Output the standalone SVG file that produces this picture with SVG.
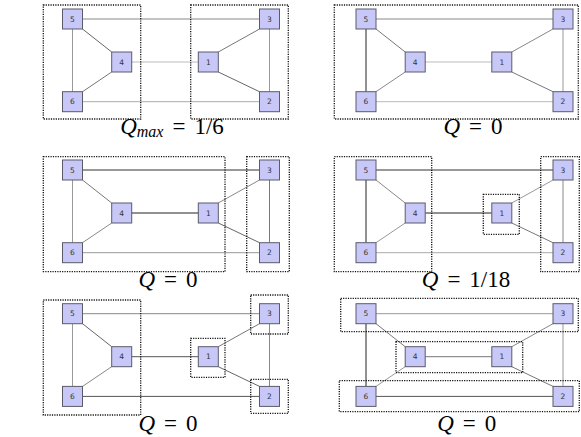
<svg xmlns="http://www.w3.org/2000/svg" width="581" height="437" viewBox="0 0 581 437">
<style>
.node rect{fill:#c8c8f8;stroke:#5a5a6a;stroke-width:1}
.node text{font-family:"DejaVu Sans",sans-serif;font-size:7.5px;fill:#333;text-anchor:middle}
.edges line{stroke-width:1;fill:none}
.box{fill:none;stroke:#111;stroke-width:1.3;stroke-dasharray:1.2 1.2}
.lbl{font-family:"Liberation Serif",serif;font-size:23px;fill:#000;text-anchor:middle}
.it{font-style:italic}
</style>
<rect width="581" height="437" fill="#fff"/>

<!-- Panel 1 -->
<g id="panel1">
<g class="edges" id="p1-edges">
<line x1="82.5" y1="19" x2="259.5" y2="19" stroke="#888"/>
<line x1="82.5" y1="29" x2="111.7" y2="52" stroke="#666"/>
<line x1="72.5" y1="29" x2="72.5" y2="91.7" stroke="#999"/>
<line x1="111.7" y1="72" x2="82.5" y2="91.7" stroke="#777"/>
<line x1="131.7" y1="62" x2="198.3" y2="62" stroke="#bbb"/>
<line x1="218.3" y1="52" x2="259.5" y2="29" stroke="#777"/>
<line x1="218.3" y1="72" x2="259.5" y2="91.7" stroke="#666"/>
<line x1="269.5" y1="29" x2="269.5" y2="91.7" stroke="#999"/>
<line x1="82.5" y1="101.7" x2="259.5" y2="101.7" stroke="#aaa"/>
</g>
<g id="p1-n5" class="node" transform="translate(72.5,19)"><rect x="-10" y="-10" width="20" height="20"/><text y="2.6">5</text></g>
<g id="p1-n3" class="node" transform="translate(269.5,19)"><rect x="-10" y="-10" width="20" height="20"/><text y="2.6">3</text></g>
<g id="p1-n4" class="node" transform="translate(121.7,62)"><rect x="-10" y="-10" width="20" height="20"/><text y="2.6">4</text></g>
<g id="p1-n1" class="node" transform="translate(208.3,62)"><rect x="-10" y="-10" width="20" height="20"/><text y="2.6">1</text></g>
<g id="p1-n6" class="node" transform="translate(72.5,101.7)"><rect x="-10" y="-10" width="20" height="20"/><text y="2.6">6</text></g>
<g id="p1-n2" class="node" transform="translate(269.5,101.7)"><rect x="-10" y="-10" width="20" height="20"/><text y="2.6">2</text></g>
<rect class="box" x="43.3" y="5" width="97.4" height="114"/>
<rect class="box" x="190.7" y="5" width="97.6" height="114"/>
<text class="lbl" x="172" y="134"><tspan class="it">Q</tspan><tspan class="it" font-size="16" dy="3">max</tspan><tspan dx="9" dy="-3">=</tspan><tspan dx="9">1/6</tspan></text>
</g>

<!-- Panel 2 -->
<g id="panel2" transform="translate(293.5,0)">
<g class="edges" id="p2-edges">
<line x1="82.5" y1="19" x2="259.5" y2="19" stroke="#888"/>
<line x1="82.5" y1="29" x2="111.7" y2="52" stroke="#777"/>
<line x1="72.5" y1="29" x2="72.5" y2="91.7" stroke="#222"/>
<line x1="111.7" y1="72" x2="82.5" y2="91.7" stroke="#888"/>
<line x1="131.7" y1="62" x2="198.3" y2="62" stroke="#bbb"/>
<line x1="218.3" y1="52" x2="259.5" y2="29" stroke="#888"/>
<line x1="218.3" y1="72" x2="259.5" y2="91.7" stroke="#777"/>
<line x1="269.5" y1="29" x2="269.5" y2="91.7" stroke="#999"/>
<line x1="82.5" y1="101.7" x2="259.5" y2="101.7" stroke="#bbb"/>
</g>
<g id="p2-n5" class="node" transform="translate(72.5,19)"><rect x="-10" y="-10" width="20" height="20"/><text y="2.6">5</text></g>
<g id="p2-n3" class="node" transform="translate(269.5,19)"><rect x="-10" y="-10" width="20" height="20"/><text y="2.6">3</text></g>
<g id="p2-n4" class="node" transform="translate(121.7,62)"><rect x="-10" y="-10" width="20" height="20"/><text y="2.6">4</text></g>
<g id="p2-n1" class="node" transform="translate(208.3,62)"><rect x="-10" y="-10" width="20" height="20"/><text y="2.6">1</text></g>
<g id="p2-n6" class="node" transform="translate(72.5,101.7)"><rect x="-10" y="-10" width="20" height="20"/><text y="2.6">6</text></g>
<g id="p2-n2" class="node" transform="translate(269.5,101.7)"><rect x="-10" y="-10" width="20" height="20"/><text y="2.6">2</text></g>
<rect class="box" x="40.8" y="5" width="244" height="114"/>
<text class="lbl" x="179.5" y="134"><tspan class="it">Q</tspan><tspan dx="9">=</tspan><tspan dx="9">0</tspan></text>
</g>

<!-- Panel 3 -->
<g id="panel3" transform="translate(0,151)">
<g class="edges" id="p3-edges">
<line x1="82.5" y1="19" x2="259.5" y2="19" stroke="#333"/>
<line x1="82.5" y1="29" x2="111.7" y2="52" stroke="#777"/>
<line x1="72.5" y1="29" x2="72.5" y2="91.7" stroke="#999"/>
<line x1="111.7" y1="72" x2="82.5" y2="91.7" stroke="#888"/>
<line x1="131.7" y1="62" x2="198.3" y2="62" stroke="#222"/>
<line x1="218.3" y1="52" x2="259.5" y2="29" stroke="#888"/>
<line x1="218.3" y1="72" x2="259.5" y2="91.7" stroke="#666"/>
<line x1="269.5" y1="29" x2="269.5" y2="91.7" stroke="#777"/>
<line x1="82.5" y1="101.7" x2="259.5" y2="101.7" stroke="#999"/>
</g>
<g id="p3-n5" class="node" transform="translate(72.5,19)"><rect x="-10" y="-10" width="20" height="20"/><text y="2.6">5</text></g>
<g id="p3-n3" class="node" transform="translate(269.5,19)"><rect x="-10" y="-10" width="20" height="20"/><text y="2.6">3</text></g>
<g id="p3-n4" class="node" transform="translate(121.7,62)"><rect x="-10" y="-10" width="20" height="20"/><text y="2.6">4</text></g>
<g id="p3-n1" class="node" transform="translate(208.3,62)"><rect x="-10" y="-10" width="20" height="20"/><text y="2.6">1</text></g>
<g id="p3-n6" class="node" transform="translate(72.5,101.7)"><rect x="-10" y="-10" width="20" height="20"/><text y="2.6">6</text></g>
<g id="p3-n2" class="node" transform="translate(269.5,101.7)"><rect x="-10" y="-10" width="20" height="20"/><text y="2.6">2</text></g>
<rect class="box" x="43.3" y="5.7" width="181.7" height="115"/>
<rect class="box" x="246.7" y="5.7" width="42.6" height="115"/>
<text class="lbl" x="168" y="136"><tspan class="it">Q</tspan><tspan dx="9">=</tspan><tspan dx="9">0</tspan></text>
</g>

<!-- Panel 4 -->
<g id="panel4" transform="translate(293.5,151)">
<g class="edges" id="p4-edges">
<line x1="82.5" y1="19" x2="259.5" y2="19" stroke="#333"/>
<line x1="82.5" y1="29" x2="111.7" y2="52" stroke="#888"/>
<line x1="72.5" y1="29" x2="72.5" y2="91.7" stroke="#222"/>
<line x1="111.7" y1="72" x2="82.5" y2="91.7" stroke="#999"/>
<line x1="131.7" y1="62" x2="198.3" y2="62" stroke="#222"/>
<line x1="218.3" y1="52" x2="259.5" y2="29" stroke="#999"/>
<line x1="218.3" y1="72" x2="259.5" y2="91.7" stroke="#777"/>
<line x1="269.5" y1="29" x2="269.5" y2="91.7" stroke="#888"/>
<line x1="82.5" y1="101.7" x2="259.5" y2="101.7" stroke="#aaa"/>
</g>
<g id="p4-n5" class="node" transform="translate(72.5,19)"><rect x="-10" y="-10" width="20" height="20"/><text y="2.6">5</text></g>
<g id="p4-n3" class="node" transform="translate(269.5,19)"><rect x="-10" y="-10" width="20" height="20"/><text y="2.6">3</text></g>
<g id="p4-n4" class="node" transform="translate(121.7,62)"><rect x="-10" y="-10" width="20" height="20"/><text y="2.6">4</text></g>
<g id="p4-n1" class="node" transform="translate(208.3,62)"><rect x="-10" y="-10" width="20" height="20"/><text y="2.6">1</text></g>
<g id="p4-n6" class="node" transform="translate(72.5,101.7)"><rect x="-10" y="-10" width="20" height="20"/><text y="2.6">6</text></g>
<g id="p4-n2" class="node" transform="translate(269.5,101.7)"><rect x="-10" y="-10" width="20" height="20"/><text y="2.6">2</text></g>
<rect class="box" x="40.8" y="5.7" width="97.4" height="115"/>
<rect class="box" x="189.8" y="43.3" width="36" height="40"/>
<rect class="box" x="247.2" y="5.7" width="38.6" height="115"/>
<text class="lbl" x="172.5" y="136"><tspan class="it">Q</tspan><tspan dx="9">=</tspan><tspan dx="9">1/18</tspan></text>
</g>

<!-- Panel 5 -->
<g id="panel5" transform="translate(0,294.7)">
<g class="edges" id="p5-edges">
<line x1="82.5" y1="19" x2="259.5" y2="19" stroke="#888"/>
<line x1="82.5" y1="29" x2="111.7" y2="52" stroke="#666"/>
<line x1="72.5" y1="29" x2="72.5" y2="91.7" stroke="#999"/>
<line x1="111.7" y1="72" x2="82.5" y2="91.7" stroke="#888"/>
<line x1="131.7" y1="62" x2="198.3" y2="62" stroke="#555"/>
<line x1="218.3" y1="52" x2="259.5" y2="29" stroke="#777"/>
<line x1="218.3" y1="72" x2="259.5" y2="91.7" stroke="#666"/>
<line x1="269.5" y1="29" x2="269.5" y2="91.7" stroke="#888"/>
<line x1="82.5" y1="101.7" x2="259.5" y2="101.7" stroke="#555"/>
</g>
<g id="p5-n5" class="node" transform="translate(72.5,19)"><rect x="-10" y="-10" width="20" height="20"/><text y="2.6">5</text></g>
<g id="p5-n3" class="node" transform="translate(269.5,19)"><rect x="-10" y="-10" width="20" height="20"/><text y="2.6">3</text></g>
<g id="p5-n4" class="node" transform="translate(121.7,62)"><rect x="-10" y="-10" width="20" height="20"/><text y="2.6">4</text></g>
<g id="p5-n1" class="node" transform="translate(208.3,62)"><rect x="-10" y="-10" width="20" height="20"/><text y="2.6">1</text></g>
<g id="p5-n6" class="node" transform="translate(72.5,101.7)"><rect x="-10" y="-10" width="20" height="20"/><text y="2.6">6</text></g>
<g id="p5-n2" class="node" transform="translate(269.5,101.7)"><rect x="-10" y="-10" width="20" height="20"/><text y="2.6">2</text></g>
<rect class="box" x="43.3" y="5.3" width="97.4" height="115"/>
<rect class="box" x="250.7" y="0.3" width="37.6" height="39"/>
<rect class="box" x="190.7" y="43.6" width="34.3" height="39"/>
<rect class="box" x="250.7" y="84.6" width="37.6" height="34"/>
<text class="lbl" x="168" y="136"><tspan class="it">Q</tspan><tspan dx="9">=</tspan><tspan dx="9">0</tspan></text>
</g>

<!-- Panel 6 -->
<g id="panel6" transform="translate(293.5,294.7)">
<g class="edges" id="p6-edges">
<line x1="82.5" y1="19" x2="259.5" y2="19" stroke="#999"/>
<line x1="82.5" y1="29" x2="111.7" y2="52" stroke="#777"/>
<line x1="72.5" y1="29" x2="72.5" y2="91.7" stroke="#222"/>
<line x1="111.7" y1="72" x2="82.5" y2="91.7" stroke="#999"/>
<line x1="131.7" y1="62" x2="198.3" y2="62" stroke="#777"/>
<line x1="218.3" y1="52" x2="259.5" y2="29" stroke="#888"/>
<line x1="218.3" y1="72" x2="259.5" y2="91.7" stroke="#777"/>
<line x1="269.5" y1="29" x2="269.5" y2="91.7" stroke="#999"/>
<line x1="82.5" y1="101.7" x2="259.5" y2="101.7" stroke="#555"/>
</g>
<g id="p6-n5" class="node" transform="translate(72.5,19)"><rect x="-10" y="-10" width="20" height="20"/><text y="2.6">5</text></g>
<g id="p6-n3" class="node" transform="translate(269.5,19)"><rect x="-10" y="-10" width="20" height="20"/><text y="2.6">3</text></g>
<g id="p6-n4" class="node" transform="translate(121.7,62)"><rect x="-10" y="-10" width="20" height="20"/><text y="2.6">4</text></g>
<g id="p6-n1" class="node" transform="translate(208.3,62)"><rect x="-10" y="-10" width="20" height="20"/><text y="2.6">1</text></g>
<g id="p6-n6" class="node" transform="translate(72.5,101.7)"><rect x="-10" y="-10" width="20" height="20"/><text y="2.6">6</text></g>
<g id="p6-n2" class="node" transform="translate(269.5,101.7)"><rect x="-10" y="-10" width="20" height="20"/><text y="2.6">2</text></g>
<rect class="box" x="47.2" y="3.6" width="237.6" height="33.4"/>
<rect class="box" x="102.5" y="47" width="126.7" height="31"/>
<rect class="box" x="45.8" y="86" width="240" height="31"/>
<text class="lbl" x="173.2" y="136"><tspan class="it">Q</tspan><tspan dx="9">=</tspan><tspan dx="9">0</tspan></text>
</g>
</svg>
